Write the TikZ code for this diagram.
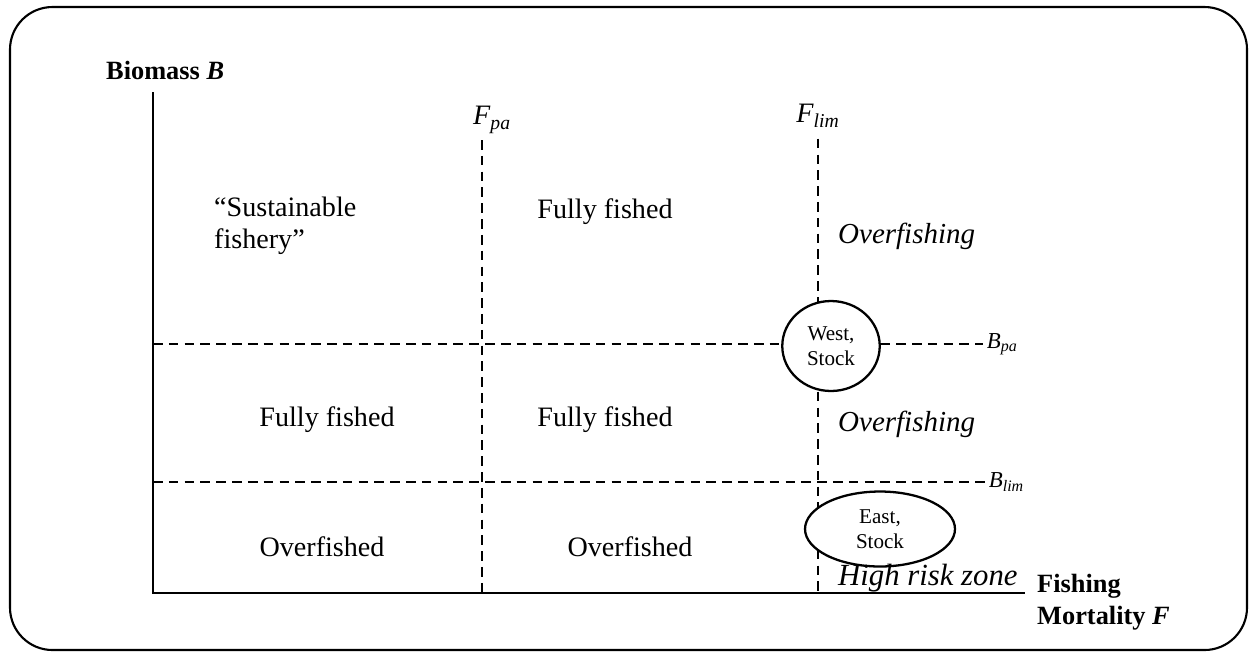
\documentclass[tikz,border=0pt]{standalone}
\usepackage{fontspec}
\setmainfont{Liberation Serif}
\usetikzlibrary{positioning, shapes.geometric}

\begin{document}
\begin{tikzpicture}[
    x=0.02cm, y=-0.02cm,
    axis/.style={line width=1.6pt},
    limit/.style={line width=1.2pt, dash pattern=on 5.5pt off 3.5pt},
    zone/.style={font=\fontsize{16}{18}\selectfont, align=left},
    warn/.style={font=\fontsize{16.5}{19}\selectfont\itshape, anchor=west},
    title/.style={font=\fontsize{15}{18}\selectfont\bfseries, align=left},
    flabel/.style={font=\fontsize{16}{19}\selectfont},
    blabel/.style={font=\fontsize{13}{15}\selectfont, anchor=west, inner sep=2pt},
    stock/.style={ellipse, draw=black, line width=1.3pt, fill=white, align=center, inner sep=0pt, font=\fontsize{12}{14}\selectfont}
]
\useasboundingbox (0,0) rectangle (1253,654);

% frame
\draw[line width=1.2pt, rounded corners=0.85cm] (10,7) rectangle (1247,650);

% axes
\coordinate (O) at (153,593);
\coordinate (Btop) at (153,92);
\coordinate (Fend) at (1025,593);
\draw[axis] (Btop) -- (O) -- (Fend);

\node[title, anchor=west] (biomass) at (100,70) {Biomass \textit{B}};
\node[title, anchor=north west] (mortality) at (1031,568) {Fishing\\Mortality \textit{F}};

% reference points
\node[flabel] (fpa) at (492,120) {\textit{F}\textsubscript{\textit{pa}}};
\node[flabel] (flim) at (818,116) {\textit{F}\textsubscript{\textit{lim}}};
\node[blabel] (bpa) at (983,344) {\textit{B}\textsubscript{\textit{pa}}};
\node[blabel] (blim) at (985,482) {\textit{B}\textsubscript{\textit{lim}}};

\coordinate (fpatop) at (482,140);
\draw[limit] (fpatop) -- (fpatop |- O);
\draw[limit] ([yshift=-0.1cm]flim.south) -- (flim.south |- O);
\draw[limit] (Btop |- bpa.west) -- (bpa.west);
\draw[limit] (Btop |- blim.west) -- (blim.west);

% stocks
\node[stock, minimum width=1.95cm, minimum height=1.8cm] (west) at (831,346) {West,\\Stock};
\node[stock, minimum width=3cm, minimum height=1.5cm] (east) at (880,529) {East,\\Stock};

% zones
\node[zone, anchor=west] (sust) at (208,226) {``Sustainable\\fishery''};
\node[zone] (full1) at (605,212) {Fully fished};
\node[warn] (over1) at (832,236) {Overfishing};
\node[zone] (full2) at (327,420) {Fully fished};
\node[zone] (full3) at (605,420) {Fully fished};
\node[warn] (over2) at (832,424) {Overfishing};
\node[zone] (fished1) at (322,547) {Overfished};
\node[zone] (fished2) at (630,547) {Overfished};
\node[warn, font=\fontsize{17.5}{20}\selectfont\itshape] (risk) at (832,578) {High risk zone};

\end{tikzpicture}
\end{document}
